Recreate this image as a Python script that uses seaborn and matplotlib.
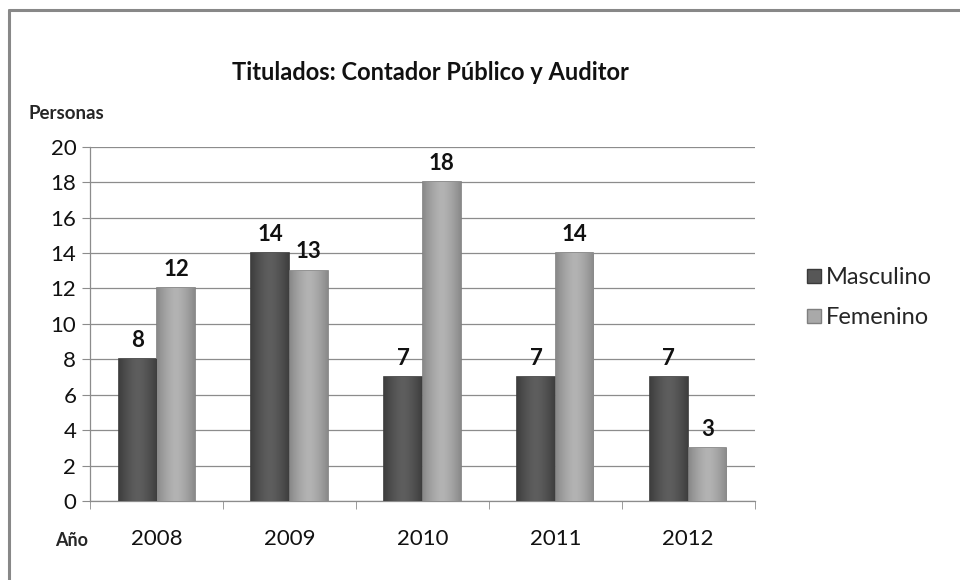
import pandas as pd
import numpy as np
import matplotlib
matplotlib.use('Agg')
import matplotlib.pyplot as plt
import seaborn as sns
from matplotlib.lines import Line2D
from matplotlib.colors import LinearSegmentedColormap

sns.set_style('white')
plt.rcParams['font.family'] = ['Lato', 'DejaVu Sans']

# data
years = ['2008', '2009', '2010', '2011', '2012']
masculino = [8, 14, 7, 7, 7]
femenino = [12, 13, 18, 14, 3]
series = ['Masculino', 'Femenino']
colors = ['#575757', '#a9a9a9']
edges = ['#3a3a3a', '#7f7f7f']
shades = [('#3e3e3e', '#5e5e5e'), ('#8a8a8a', '#b3b3b3')]

df = pd.DataFrame({
    'Año': years * 2,
    'Personas': masculino + femenino,
    'Sexo': ['Masculino'] * len(years) + ['Femenino'] * len(years),
})

fig = plt.figure(figsize=(9.6, 5.8), dpi=100)
ax = fig.add_axes([0.094, 0.136, 0.692, 0.611])

sns.barplot(data=df, x='Año', y='Personas', hue='Sexo', hue_order=series,
            palette=colors, width=0.58, gap=0.02, ax=ax, legend=False)

ax.set_ylim(0, 20)
ax.set_xlim(-0.5, 4.5)

# soft gradient on each bar, like the spreadsheet style
grad = np.abs(np.linspace(-1, 1, 64)) ** 1.5
grad = (1 - grad).reshape(1, -1)
for cont, ec, (dark, light) in zip(ax.containers, edges, shades):
    cmap = LinearSegmentedColormap.from_list('g', [dark, light])
    for b in cont:
        b.set_edgecolor(ec)
        b.set_linewidth(1.2)
        b.set_zorder(3)
        x0, y0 = b.get_x(), b.get_y()
        im = ax.imshow(grad, cmap=cmap, aspect='auto', zorder=3.5,
                       extent=[x0, x0 + b.get_width(), y0, y0 + b.get_height()])
        im.set_clip_path(b)
    ax.bar_label(cont, padding=6, fontsize=16, fontweight='bold', color='#111111')

ax.set_ylim(0, 20)
ax.set_xlim(-0.5, 4.5)
ax.set_yticks(range(0, 21, 2))
ax.yaxis.grid(True, color='#8c8c8c', linewidth=0.9, zorder=0)
ax.set_axisbelow(True)
for s in ['top', 'right']:
    ax.spines[s].set_visible(False)
for s in ['left', 'bottom']:
    ax.spines[s].set_color('#8c8c8c')
    ax.spines[s].set_linewidth(0.9)

ax.tick_params(axis='y', length=6, color='#8c8c8c', labelsize=16, pad=4, left=True, labelcolor='#111111')
ax.tick_params(axis='x', length=0, labelsize=16, pad=20, labelcolor='#111111')
# tick marks between categories
ax.set_xticks(np.arange(-0.5, 5, 1), minor=True)
ax.tick_params(axis='x', which='minor', length=6, color='#8c8c8c', bottom=True)
ax.set_xlabel('')
ax.set_ylabel('')

fig.text(0.448, 0.875, 'Titulados: Contador Público y Auditor', ha='center', va='center',
         fontsize=17, fontweight='bold', color='#111111')
fig.text(0.03, 0.805, 'Personas', ha='left', va='center', fontsize=13.5, fontweight='bold')
fig.text(0.057, 0.068, 'Año', ha='left', va='center', fontsize=13, fontweight='bold')

handles = [Line2D([], [], marker='s', linestyle='', markersize=10,
                  markerfacecolor=c, markeredgecolor=e) for c, e in zip(colors, edges)]
fig.legend(handles, series, loc='center left', bbox_to_anchor=(0.838, 0.487),
           frameon=False, fontsize=17, handletextpad=0.1, labelspacing=0.8,
           handlelength=0.8, borderpad=0, borderaxespad=0)

# chart frame (top and left edge)
fig.add_artist(Line2D([0.009, 1.0], [0.983, 0.983], transform=fig.transFigure,
                      color='#888888', linewidth=2.2))
fig.add_artist(Line2D([0.009, 0.009], [0.0, 0.983], transform=fig.transFigure,
                      color='#888888', linewidth=2.2))

fig.savefig('out.png', dpi=100)
